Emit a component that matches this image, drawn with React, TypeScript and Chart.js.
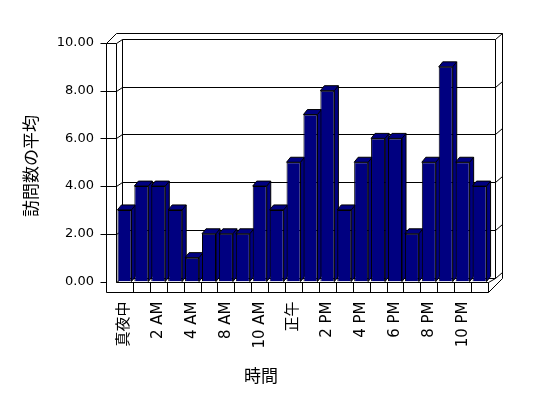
import React, { useEffect, useRef } from 'react';
import { Chart, registerables } from 'chart.js';

Chart.register(...registerables);

const categories = ['真夜中', '1 AM', '2 AM', '3 AM', '4 AM', '7 AM', '8 AM', '9 AM', '10 AM', '11 AM', '正午', '1 PM', '2 PM', '3 PM', '4 PM', '5 PM', '6 PM', '7 PM', '8 PM', '9 PM', '10 PM', '11 PM'];
const visits = [3, 4, 4, 3, 1, 2, 2, 2, 4, 3, 5, 7, 8, 3, 5, 6, 6, 2, 5, 9, 5, 4];
const yTicks = [0, 2, 4, 6, 8, 10];
const xTitle = '時間';
const yTitle = '訪問数の平均';

const FONT = "'DejaVu Sans', 'Noto Sans CJK JP', sans-serif";
const CJK = "'Noto Sans CJK JP', sans-serif";
const NAVY = '#000080';

const p = (v: number) => Math.round(v) + 0.5;

function line(ctx: CanvasRenderingContext2D, pts: number[][]) {
  ctx.beginPath();
  ctx.moveTo(p(pts[0][0]), p(pts[0][1]));
  for (let i = 1; i < pts.length; i++) ctx.lineTo(p(pts[i][0]), p(pts[i][1]));
  ctx.stroke();
}

const frame3d = {
  id: 'frame3d',
  beforeDatasetsDraw(chart: any) {
    const ctx: CanvasRenderingContext2D = chart.ctx;
    const { left, right, top, bottom } = chart.chartArea;
    const ys = chart.scales.y;
    const xs = chart.scales.x;
    const fl = left - 10;
    const floorB = bottom + 10;
    const bx0 = left + 6;
    const bx1 = right + 7;
    const off = -4;
    const ox = bx1 + 7;
    const oy = top - 10;
    ctx.save();
    ctx.strokeStyle = '#000';
    ctx.lineWidth = 1;
    yTicks.forEach((v) => {
      const yf = ys.getPixelForValue(v);
      const yb = yf + off;
      line(ctx, [[bx0, yb], [bx1, yb]]);
      if (v > 0) line(ctx, [[fl, yf], [left, yf], [bx0, yb]]);
      else line(ctx, [[left, yf], [bx0, yb]]);
      line(ctx, [[bx1, yb], [ox, yb - 6]]);
      line(ctx, [[fl - 6, yf], [fl, yf]]);
    });
    line(ctx, [[fl, top], [fl, floorB]]);
    line(ctx, [[left, top], [left, bottom]]);
    line(ctx, [[bx0, top + off], [bx0, bottom + off]]);
    line(ctx, [[fl, top], [left, oy], [ox, oy], [ox, bottom + off], [right, floorB]]);
    line(ctx, [[bx1, top + off], [bx1, bottom + off], [right, bottom]]);
    line(ctx, [[left, bottom], [right, bottom], [right, floorB], [fl, floorB]]);
    const n = categories.length;
    for (let i = 1; i < n; i++) {
      const xb = (xs.getPixelForValue(i) + xs.getPixelForValue(i - 1)) / 2;
      line(ctx, [[xb, bottom], [xb, floorB]]);
    }
    const DX = 4;
    const DY = -5;
    const meta = chart.getDatasetMeta(0);
    meta.data.forEach((el: any) => {
      const w = el.width;
      const xl = el.x - w / 2;
      const xr = el.x + w / 2;
      const yt = el.y;
      const yb = el.base;
      ctx.fillStyle = NAVY;
      ctx.beginPath();
      ctx.moveTo(xr, yb);
      ctx.lineTo(xr, yt);
      ctx.lineTo(xl, yt);
      ctx.lineTo(xl + DX, yt + DY);
      ctx.lineTo(xr + DX, yt + DY);
      ctx.lineTo(xr + DX, yb + DY);
      ctx.closePath();
      ctx.fill();
      ctx.stroke();
      ctx.beginPath();
      ctx.moveTo(xr, yt);
      ctx.lineTo(xr + DX, yt + DY);
      ctx.stroke();
    });
    ctx.restore();
  },
  afterDraw(chart: any) {
    const ctx: CanvasRenderingContext2D = chart.ctx;
    ctx.save();
    ctx.fillStyle = '#000';
    ctx.font = `17px ${CJK}`;
    ctx.textAlign = 'center';
    ctx.textBaseline = 'middle';
    ctx.fillText(xTitle, 261, 376);
    ctx.translate(31, 166);
    ctx.rotate(-Math.PI / 2);
    ctx.fillText(yTitle, 0, 0);
    ctx.restore();
  },
};

export default function App() {
  const ref = useRef<HTMLCanvasElement | null>(null);
  useEffect(() => {
    const canvas = ref.current;
    if (!canvas) return;
    const chart = new Chart(canvas, {
      type: 'bar',
      data: {
        labels: categories,
        datasets: [
          {
            data: visits,
            backgroundColor: NAVY,
            borderColor: '#000',
            borderWidth: 1,
            barPercentage: 0.83,
            categoryPercentage: 1,
          },
        ],
      },
      options: {
        responsive: false,
        animation: false,
        devicePixelRatio: 1,
        layout: { padding: { left: 0, right: 60, top: 43, bottom: 0 } },
        plugins: { legend: { display: false }, tooltip: { enabled: false } },
        scales: {
          x: {
            grid: { display: false, drawTicks: false },
            border: { display: false },
            ticks: {
              autoSkip: false,
              minRotation: 90,
              maxRotation: 90,
              padding: 20,
              color: '#000',
              font: { size: 15, family: FONT },
              callback: (_v: any, i: number) => (i % 2 === 0 ? categories[i] : ''),
            },
            afterFit: (s: any) => {
              s.height = 116.5;
            },
          },
          y: {
            min: 0,
            max: 10,
            grid: { display: false, drawTicks: false },
            border: { display: false },
            ticks: {
              stepSize: 2,
              padding: 22,
              color: '#000',
              font: { size: 13, family: FONT },
              callback: (v: any) => Number(v).toFixed(2),
            },
            afterFit: (s: any) => {
              s.width = 116;
            },
          },
        },
      },
      plugins: [frame3d],
    });
    return () => chart.destroy();
  }, []);
  return (
    <div style={{ position: 'fixed', left: 0, top: 0, width: 548, height: 398, background: '#fff' }}>
      <canvas ref={ref} width={548} height={398} style={{ display: 'block' }} />
    </div>
  );
}
